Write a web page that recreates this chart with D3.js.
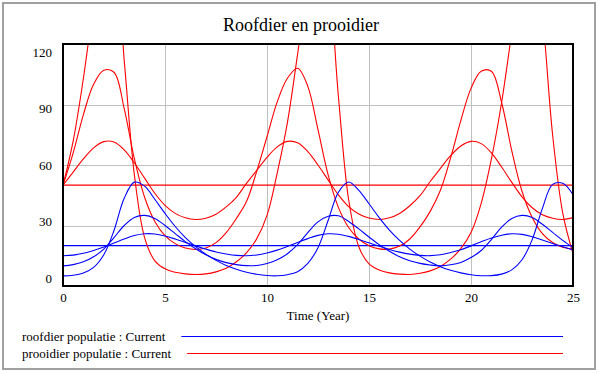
<!DOCTYPE html>
<html lang="nl">
<head>
<meta charset="UTF-8">
<title>Roofdier en prooidier</title>
<style>
  * { margin: 0; padding: 0; }
  body { background: #fff; }
  text { font-family: "Liberation Serif", "Times New Roman", serif; fill: #000; }
</style>
</head>
<body>
<div id="chart"></div>
<script src="https://cdn.jsdelivr.net/npm/d3@7/dist/d3.min.js"></script>
<script>
// tijd in jaren, stap 0.5
const tijd = d3.range(0, 25.01, 0.5)
const xTicks = [0, 5, 10, 15, 20, 25]
const yTicks = [0, 30, 60, 90, 120]

// prooidier populatie, runs met startwaarde roofdier 15, 10, 5 en evenwicht
const prooiA = [50, 56.5, 63, 68.5, 71.6, 71.4, 67.5, 61, 53.5, 46, 40, 36, 33.8, 33, 33.6, 35.6, 39.2, 44,
  51, 57.4, 63.8, 69, 71.7, 71, 66.6, 60, 52.5, 45.2, 39.4, 35.7, 33.7, 33, 33.8, 36, 39.8, 44.8,
  51.8, 58.3, 64.6, 69.4, 71.7, 70.6, 66, 59, 51.4, 44.2, 38.8, 35.3, 33.6, 33, 33.9]
const prooiB = [50, 66, 85, 100, 107, 106, 88, 63, 44, 32, 25, 21, 18.8, 18.1, 18.8, 21.5, 26.5, 33.5,
  42, 57, 74, 91.3, 103, 108, 99, 77.5, 55, 39, 29, 23.3, 20, 18.4, 18.3, 19.8, 23.3, 29.3,
  37, 47.5, 63.5, 82, 98, 106.5, 106.5, 91, 67, 47, 34, 26, 21.6, 19.2, 18.2]
const prooiC = [50, 72, 103, 140, 172, 168, 112, 55, 24, 12.5, 8.5, 6.8, 6.0, 5.7, 6.0, 7.0, 8.8, 12,
  16.5, 23.5, 35, 56, 81, 115, 150, 176, 155, 94, 43, 19.5, 11, 7.9, 6.5, 5.9, 5.7, 6.3,
  7.5, 9.7, 13.3, 18.5, 26.5, 41, 63, 91, 126, 162, 175, 135, 75, 36, 16]
const prooiEvenwicht = 50

// roofdier populatie
const roofA = [15, 15.3, 16.2, 17.6, 19.3, 21.3, 23.3, 25, 25.9, 25.8, 24.8, 23.3, 21.6, 19.9, 18.3, 16.9, 15.9, 15.2,
  15, 15.4, 16.4, 17.8, 19.6, 21.6, 23.5, 25.1, 25.9, 25.7, 24.6, 23.1, 21.4, 19.7, 18.1, 16.8, 15.8, 15.2,
  15.05, 15.5, 16.6, 18, 19.9, 21.9, 23.8, 25.2, 25.9, 25.6, 24.4, 22.8, 21.1, 19.5, 17.9]
const roofB = [10, 10.6, 12, 14.5, 18.3, 24, 30, 34, 35, 33.5, 30, 26, 22, 18.5, 15.5, 13.2, 11.6, 10.6,
  10.1, 10.2, 11.2, 13, 16, 20.5, 26.5, 31.8, 34.6, 34.8, 32, 28.3, 24.3, 20.5, 17.2, 14.5, 12.5, 11.2,
  10.4, 10, 10.5, 11.7, 14.1, 17.6, 23, 29.2, 33.5, 35, 34, 30.6, 26.6, 22.6, 19]
const roofC = [5, 5.3, 6.4, 9.2, 15.5, 27.5, 43.5, 51.5, 49.5, 43, 36, 29.5, 24, 19.5, 15.8, 12.7, 10.2, 8.3,
  6.8, 5.8, 5.2, 5.05, 5.6, 7.1, 11.2, 19, 32.6, 46.5, 51.6, 47.4, 40.8, 33.9, 27.7, 22.6, 18.3, 14.8,
  11.9, 9.6, 7.8, 6.5, 5.6, 5.1, 5.15, 5.9, 8, 13, 23, 38.5, 50.4, 50.9, 45.3]
const roofEvenwicht = 20

const rood = '#ff0000'
const blauw = '#0000ff'
const serif = '"Liberation Serif", "Times New Roman", serif'

const svg = d3.select('#chart').append('svg')
  .attr('width', 600)
  .attr('height', 375)

svg.append('rect')
  .attr('x', 3).attr('y', 3)
  .attr('width', 592).attr('height', 366)
  .attr('fill', 'white')
  .attr('stroke', '#a0a0a0')
  .attr('stroke-width', 2)

svg.append('text')
  .attr('x', 301).attr('y', 31)
  .attr('text-anchor', 'middle')
  .style('font-size', '18px')
  .text('Roofdier en prooidier')

const x = d3.scaleLinear().domain([0, 25]).range([63, 573])
const y = d3.scaleLinear().domain([0, 120]).range([286, 44])
// Vensim zet de y-labels iets anders dan de rasterlijnen
const yLabel = d3.scaleLinear().domain([0, 120]).range([278, 52])

// raster
svg.append('g').selectAll('line')
  .data(xTicks.slice(1, -1))
  .join('line')
  .attr('x1', d => Math.round(x(d)) + 0.5).attr('x2', d => Math.round(x(d)) + 0.5)
  .attr('y1', y(120)).attr('y2', y(0))
  .attr('stroke', '#c0c0c0')

svg.append('g').selectAll('line')
  .data(yTicks.slice(1, -1))
  .join('line')
  .attr('x1', x(0)).attr('x2', x(25))
  .attr('y1', d => Math.round(y(d)) + 0.5).attr('y2', d => Math.round(y(d)) + 0.5)
  .attr('stroke', '#c0c0c0')

svg.append('clipPath').attr('id', 'plot')
  .append('rect')
  .attr('x', x(0)).attr('y', y(120))
  .attr('width', x(25) - x(0)).attr('height', y(0) - y(120))

const lijn = d3.line()
  .x((d, i) => x(tijd[i]))
  .y(d => y(d))
  .curve(d3.curveCatmullRom.alpha(0.5))

const runs = [
  { waarden: tijd.map(() => prooiEvenwicht), kleur: rood },
  { waarden: tijd.map(() => roofEvenwicht), kleur: blauw },
  { waarden: prooiA, kleur: rood },
  { waarden: prooiB, kleur: rood },
  { waarden: prooiC, kleur: rood },
  { waarden: roofA, kleur: blauw },
  { waarden: roofB, kleur: blauw },
  { waarden: roofC, kleur: blauw }
]

svg.append('g')
  .attr('clip-path', 'url(#plot)')
  .selectAll('path')
  .data(runs)
  .join('path')
  .attr('d', d => lijn(d.waarden))
  .attr('fill', 'none')
  .attr('stroke', d => d.kleur)
  .attr('stroke-width', 1.1)

// kader
svg.append('rect')
  .attr('x', x(0)).attr('y', y(120))
  .attr('width', x(25) - x(0)).attr('height', y(0) - y(120))
  .attr('fill', 'none')
  .attr('stroke', 'black')
  .attr('stroke-width', 2)

// assen
const yAxis = svg.append('g')
  .attr('transform', 'translate(52,0)')
  .call(d3.axisLeft(yLabel).tickValues(yTicks).tickSize(0).tickPadding(0))
  .attr('font-family', serif)
  .attr('font-size', 13)
yAxis.select('.domain').remove()

const xAxis = svg.append('g')
  .attr('transform', 'translate(0,290)')
  .call(d3.axisBottom(x).tickValues(xTicks).tickSize(0).tickPadding(3))
  .attr('font-family', serif)
  .attr('font-size', 13)
xAxis.select('.domain').remove()

svg.append('text')
  .attr('x', (x(0) + x(25)) / 2).attr('y', 319.5)
  .attr('text-anchor', 'middle')
  .style('font-size', '13px')
  .text('Time (Year)')

// legenda
const legenda = [
  { naam: 'roofdier populatie : Current', kleur: blauw },
  { naam: 'prooidier populatie : Current', kleur: rood }
]
legenda.forEach((l, i) => {
  const yy = 341 + i * 17
  const t = svg.append('text')
    .attr('x', 22).attr('y', yy)
    .style('font-size', '13px')
    .text(l.naam)
  const eind = 22 + t.node().getComputedTextLength()
  svg.append('line')
    .attr('x1', eind + 16).attr('x2', 563)
    .attr('y1', yy - 4.5).attr('y2', yy - 4.5)
    .attr('stroke', l.kleur)
    .attr('stroke-width', 1.2)
})
</script>
</body>
</html>
